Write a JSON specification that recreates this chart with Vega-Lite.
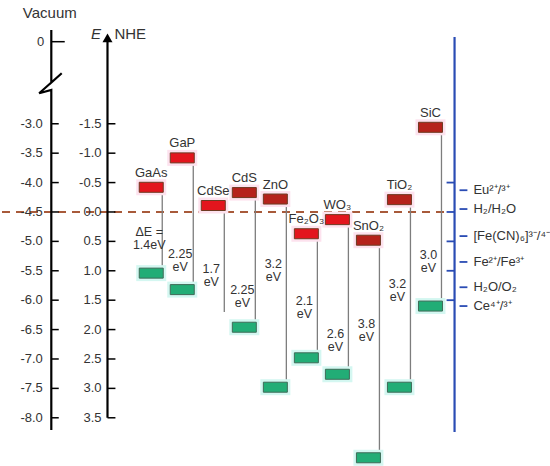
{
  "$schema": "https://vega.github.io/schema/vega-lite/v6.json",
  "description": "Band edge positions of semiconductors vs NHE and vacuum, with redox couples.",
  "width": 550,
  "height": 466,
  "autosize": {"type": "fit", "contains": "padding"},
  "padding": 0,
  "background": "white",
  "config": {"view": {"stroke": null}, "text": {"font": "Liberation Sans", "color": "#333333"}},
  "datasets": {
    "bands": [
      {"name": "GaAs", "pos": 0, "cb": -0.42, "vb": 1.04, "gap": "ΔE =\n1.4eV", "gapAt": 0.34},
      {"name": "GaP", "pos": 1, "cb": -0.92, "vb": 1.32, "gap": "2.25\neV", "gapAt": 0.71},
      {"name": "CdSe", "pos": 2, "cb": -0.11, "vb": 1.7, "gap": "1.7\neV", "gapAt": 0.97},
      {"name": "CdS", "pos": 3, "cb": -0.33, "vb": 1.96, "gap": "2.25\neV", "gapAt": 1.33},
      {"name": "ZnO", "pos": 4, "cb": -0.22, "vb": 2.98, "gap": "3.2\neV", "gapAt": 0.88},
      {"name": "Fe₂O₃", "pos": 5, "cb": 0.37, "vb": 2.48, "gap": "2.1\neV", "gapAt": 1.51},
      {"name": "WO₃", "pos": 6, "cb": 0.13, "vb": 2.76, "gap": "2.6\neV", "gapAt": 2.08},
      {"name": "SnO₂", "pos": 7, "cb": 0.48, "vb": 4.18, "gap": "3.8\neV", "gapAt": 1.9},
      {"name": "TiO₂", "pos": 8, "cb": -0.21, "vb": 2.98, "gap": "3.2\neV", "gapAt": 1.23},
      {"name": "SiC", "pos": 9, "cb": -1.44, "vb": 1.6, "gap": "3.0\neV", "gapAt": 0.73}
    ],
    "redox": [
      {"couple": "Eu²⁺/³⁺", "e": -0.37},
      {"couple": "H₂/H₂O", "e": -0.05},
      {"couple": "[Fe(CN)₆]³⁻/⁴⁻", "e": 0.41},
      {"couple": "Fe²⁺/Fe³⁺", "e": 0.85},
      {"couple": "H₂O/O₂", "e": 1.28},
      {"couple": "Ce⁴⁺/³⁺", "e": 1.6}
    ],
    "scaleTicks": [
      {"nhe": -1.5, "nheLabel": "-1.5", "vacLabel": "-3.0"},
      {"nhe": -1.0, "nheLabel": "-1.0", "vacLabel": "-3.5"},
      {"nhe": -0.5, "nheLabel": "-0.5", "vacLabel": "-4.0"},
      {"nhe": 0.0, "nheLabel": "0.0", "vacLabel": "-4.5"},
      {"nhe": 0.5, "nheLabel": "0.5", "vacLabel": "-5.0"},
      {"nhe": 1.0, "nheLabel": "1.0", "vacLabel": "-5.5"},
      {"nhe": 1.5, "nheLabel": "1.5", "vacLabel": "-6.0"},
      {"nhe": 2.0, "nheLabel": "2.0", "vacLabel": "-6.5"},
      {"nhe": 2.5, "nheLabel": "2.5", "vacLabel": "-7.0"},
      {"nhe": 3.0, "nheLabel": "3.0", "vacLabel": "-7.5"},
      {"nhe": 3.5, "nheLabel": "3.5", "vacLabel": "-8.0"}
    ],
    "vacAxis": [
      {"k": 0, "x": -3.221, "e": -3.095},
      {"k": 1, "x": -3.221, "e": -2.201},
      {"k": 2, "x": -2.885, "e": -2.359},
      {"k": 3, "x": -3.612, "e": -2.019},
      {"k": 4, "x": -3.221, "e": -2.075},
      {"k": 5, "x": -3.221, "e": 3.707}
    ],
    "one": [{}]
  },
  "layer": [
    {
      "data": {"name": "one"},
      "mark": {"type": "rule", "color": "#a85a3a", "strokeWidth": 2.2, "strokeDash": [8, 6]},
      "encoding": {
        "x": {"datum": -4.81, "type": "quantitative", "scale": {"domain": [-4.81, 12.82], "nice": false, "zero": false}, "axis": null},
        "x2": {"datum": 9.52},
        "y": {"datum": 0, "type": "quantitative", "scale": {"domain": [-3.605, 4.32], "reverse": true, "nice": false, "zero": false}, "axis": null}
      }
    },
    {
      "data": {"name": "vacAxis"},
      "mark": {"type": "line", "color": "black", "strokeWidth": 2.2, "strokeJoin": "miter"},
      "encoding": {
        "x": {"field": "x", "type": "quantitative", "scale": {"domain": [-4.81, 12.82], "nice": false, "zero": false}, "axis": null},
        "y": {"field": "e", "type": "quantitative", "scale": {"domain": [-3.605, 4.32], "reverse": true, "nice": false, "zero": false}, "axis": null},
        "order": {"field": "k"}
      }
    },
    {
      "data": {"name": "scaleTicks"},
      "mark": {"type": "rule", "color": "black", "strokeWidth": 1.5},
      "encoding": {
        "x": {"datum": -3.221, "type": "quantitative", "scale": {"domain": [-4.81, 12.82], "nice": false, "zero": false}, "axis": null},
        "x2": {"datum": -2.981},
        "y": {"field": "nhe", "type": "quantitative", "scale": {"domain": [-3.605, 4.32], "reverse": true, "nice": false, "zero": false}, "axis": null}
      }
    },
    {
      "data": {"name": "scaleTicks"},
      "mark": {"type": "text", "align": "right", "baseline": "middle", "fontSize": 13},
      "encoding": {
        "x": {"datum": -3.494, "type": "quantitative", "scale": {"domain": [-4.81, 12.82], "nice": false, "zero": false}, "axis": null},
        "y": {"field": "nhe", "type": "quantitative", "scale": {"domain": [-3.605, 4.32], "reverse": true, "nice": false, "zero": false}, "axis": null},
        "text": {"field": "vacLabel"}
      }
    },
    {
      "data": {"name": "one"},
      "mark": {"type": "rule", "color": "black", "strokeWidth": 1.5},
      "encoding": {
        "x": {"datum": -3.221, "type": "quantitative", "scale": {"domain": [-4.81, 12.82], "nice": false, "zero": false}, "axis": null},
        "x2": {"datum": -2.788},
        "y": {"datum": -2.896, "type": "quantitative", "scale": {"domain": [-3.605, 4.32], "reverse": true, "nice": false, "zero": false}, "axis": null}
      }
    },
    {
      "data": {"name": "one"},
      "mark": {"type": "text", "align": "right", "baseline": "middle", "fontSize": 13, "text": "0"},
      "encoding": {
        "x": {"datum": -3.45, "type": "quantitative", "scale": {"domain": [-4.81, 12.82], "nice": false, "zero": false}, "axis": null},
        "y": {"datum": -2.896, "type": "quantitative", "scale": {"domain": [-3.605, 4.32], "reverse": true, "nice": false, "zero": false}, "axis": null}
      }
    },
    {
      "data": {"name": "one"},
      "mark": {"type": "text", "align": "center", "baseline": "middle", "fontSize": 15, "text": "Vacuum"},
      "encoding": {
        "x": {"datum": -3.27, "type": "quantitative", "scale": {"domain": [-4.81, 12.82], "nice": false, "zero": false}, "axis": null},
        "y": {"datum": -3.384, "type": "quantitative", "scale": {"domain": [-3.605, 4.32], "reverse": true, "nice": false, "zero": false}, "axis": null}
      }
    },
    {
      "data": {"name": "one"},
      "mark": {"type": "rule", "color": "black", "strokeWidth": 2.2},
      "encoding": {
        "x": {"datum": -1.41, "type": "quantitative", "scale": {"domain": [-4.81, 12.82], "nice": false, "zero": false}, "axis": null},
        "y": {"datum": -2.96, "type": "quantitative", "scale": {"domain": [-3.605, 4.32], "reverse": true, "nice": false, "zero": false}, "axis": null},
        "y2": {"datum": 3.5}
      }
    },
    {
      "data": {"name": "one"},
      "mark": {"type": "point", "shape": "triangle-up", "filled": true, "color": "black", "size": 100, "opacity": 1},
      "encoding": {
        "x": {"datum": -1.41, "type": "quantitative", "scale": {"domain": [-4.81, 12.82], "nice": false, "zero": false}, "axis": null},
        "y": {"datum": -2.96, "type": "quantitative", "scale": {"domain": [-3.605, 4.32], "reverse": true, "nice": false, "zero": false}, "axis": null}
      }
    },
    {
      "data": {"name": "scaleTicks"},
      "mark": {"type": "rule", "color": "black", "strokeWidth": 1.5},
      "encoding": {
        "x": {"datum": -1.41, "type": "quantitative", "scale": {"domain": [-4.81, 12.82], "nice": false, "zero": false}, "axis": null},
        "x2": {"datum": -1.154},
        "y": {"field": "nhe", "type": "quantitative", "scale": {"domain": [-3.605, 4.32], "reverse": true, "nice": false, "zero": false}, "axis": null}
      }
    },
    {
      "data": {"name": "scaleTicks"},
      "mark": {"type": "text", "align": "right", "baseline": "middle", "fontSize": 13},
      "encoding": {
        "x": {"datum": -1.603, "type": "quantitative", "scale": {"domain": [-4.81, 12.82], "nice": false, "zero": false}, "axis": null},
        "y": {"field": "nhe", "type": "quantitative", "scale": {"domain": [-3.605, 4.32], "reverse": true, "nice": false, "zero": false}, "axis": null},
        "text": {"field": "nheLabel"}
      }
    },
    {
      "data": {"name": "one"},
      "mark": {"type": "text", "align": "center", "baseline": "middle", "fontSize": 15, "fontStyle": "italic", "text": "E"},
      "encoding": {
        "x": {"datum": -1.78, "type": "quantitative", "scale": {"domain": [-4.81, 12.82], "nice": false, "zero": false}, "axis": null},
        "y": {"datum": -3.027, "type": "quantitative", "scale": {"domain": [-3.605, 4.32], "reverse": true, "nice": false, "zero": false}, "axis": null}
      }
    },
    {
      "data": {"name": "one"},
      "mark": {"type": "text", "align": "left", "baseline": "middle", "fontSize": 15, "text": "NHE"},
      "encoding": {
        "x": {"datum": -1.186, "type": "quantitative", "scale": {"domain": [-4.81, 12.82], "nice": false, "zero": false}, "axis": null},
        "y": {"datum": -3.027, "type": "quantitative", "scale": {"domain": [-3.605, 4.32], "reverse": true, "nice": false, "zero": false}, "axis": null}
      }
    },
    {
      "data": {"name": "one"},
      "mark": {"type": "rule", "color": "#2a4cb4", "strokeWidth": 2.2},
      "encoding": {
        "x": {"datum": 9.776, "type": "quantitative", "scale": {"domain": [-4.81, 12.82], "nice": false, "zero": false}, "axis": null},
        "y": {"datum": -2.976, "type": "quantitative", "scale": {"domain": [-3.605, 4.32], "reverse": true, "nice": false, "zero": false}, "axis": null},
        "y2": {"datum": 3.741}
      }
    },
    {
      "data": {"name": "scaleTicks"},
      "transform": [{"filter": "datum.nhe >= -0.5 && datum.nhe <= 1.5"}],
      "mark": {"type": "rule", "color": "#2a4cb4", "strokeWidth": 1.8},
      "encoding": {
        "x": {"datum": 9.519, "type": "quantitative", "scale": {"domain": [-4.81, 12.82], "nice": false, "zero": false}, "axis": null},
        "x2": {"datum": 9.776},
        "y": {"field": "nhe", "type": "quantitative", "scale": {"domain": [-3.605, 4.32], "reverse": true, "nice": false, "zero": false}, "axis": null}
      }
    },
    {
      "data": {"name": "redox"},
      "mark": {"type": "rule", "color": "#2a4cb4", "strokeWidth": 1.8},
      "encoding": {
        "x": {"datum": 9.936, "type": "quantitative", "scale": {"domain": [-4.81, 12.82], "nice": false, "zero": false}, "axis": null},
        "x2": {"datum": 10.19},
        "y": {"field": "e", "type": "quantitative", "scale": {"domain": [-3.605, 4.32], "reverse": true, "nice": false, "zero": false}, "axis": null}
      }
    },
    {
      "data": {"name": "redox"},
      "mark": {"type": "text", "align": "left", "baseline": "middle", "fontSize": 13},
      "encoding": {
        "x": {"datum": 10.385, "type": "quantitative", "scale": {"domain": [-4.81, 12.82], "nice": false, "zero": false}, "axis": null},
        "y": {"field": "e", "type": "quantitative", "scale": {"domain": [-3.605, 4.32], "reverse": true, "nice": false, "zero": false}, "axis": null},
        "text": {"field": "couple"}
      }
    },
    {
      "data": {"name": "bands"},
      "mark": {"type": "rule", "color": "#7d7d7d", "strokeWidth": 1.3, "xOffset": 11},
      "encoding": {
        "x": {"field": "pos", "type": "quantitative", "scale": {"domain": [-4.81, 12.82], "nice": false, "zero": false}, "axis": null},
        "y": {"field": "cb", "type": "quantitative", "scale": {"domain": [-3.605, 4.32], "reverse": true, "nice": false, "zero": false}, "axis": null},
        "y2": {"field": "vb"}
      }
    },
    {
      "data": {"name": "bands"},
      "mark": {"type": "tick", "orient": "horizontal", "size": 30, "thickness": 16, "color": "#fde2ee", "opacity": 1},
      "encoding": {
        "x": {"field": "pos", "type": "quantitative", "scale": {"domain": [-4.81, 12.82], "nice": false, "zero": false}, "axis": null},
        "y": {"field": "cb", "type": "quantitative", "scale": {"domain": [-3.605, 4.32], "reverse": true, "nice": false, "zero": false}, "axis": null}
      }
    },
    {
      "data": {"name": "bands"},
      "transform": [{"filter": "datum.name !== 'CdSe'"}],
      "mark": {"type": "tick", "orient": "horizontal", "size": 30, "thickness": 16, "color": "#d4f7f1", "opacity": 1},
      "encoding": {
        "x": {"field": "pos", "type": "quantitative", "scale": {"domain": [-4.81, 12.82], "nice": false, "zero": false}, "axis": null},
        "y": {"field": "vb", "type": "quantitative", "scale": {"domain": [-3.605, 4.32], "reverse": true, "nice": false, "zero": false}, "axis": null}
      }
    },
    {
      "data": {"name": "bands"},
      "mark": {"type": "tick", "orient": "horizontal", "size": 24, "thickness": 10, "opacity": 1, "stroke": "#6e3a22", "strokeWidth": 1},
      "encoding": {
        "x": {"field": "pos", "type": "quantitative", "scale": {"domain": [-4.81, 12.82], "nice": false, "zero": false}, "axis": null},
        "y": {"field": "cb", "type": "quantitative", "scale": {"domain": [-3.605, 4.32], "reverse": true, "nice": false, "zero": false}, "axis": null},
        "color": {
          "condition": {"test": "indexof(['CdS', 'ZnO', 'SnO₂', 'TiO₂', 'SiC'], datum.name) >= 0", "value": "#b5221b"},
          "value": "#e3151d"
        }
      }
    },
    {
      "data": {"name": "bands"},
      "transform": [{"filter": "datum.name !== 'CdSe'"}],
      "mark": {"type": "tick", "orient": "horizontal", "size": 24, "thickness": 10, "color": "#22ad76", "opacity": 1, "stroke": "#3f6b58", "strokeWidth": 1},
      "encoding": {
        "x": {"field": "pos", "type": "quantitative", "scale": {"domain": [-4.81, 12.82], "nice": false, "zero": false}, "axis": null},
        "y": {"field": "vb", "type": "quantitative", "scale": {"domain": [-3.605, 4.32], "reverse": true, "nice": false, "zero": false}, "axis": null}
      }
    },
    {
      "data": {"name": "bands"},
      "mark": {"type": "text", "align": "center", "baseline": "alphabetic", "fontSize": 13, "dy": -10.5},
      "encoding": {
        "x": {"field": "pos", "type": "quantitative", "scale": {"domain": [-4.81, 12.82], "nice": false, "zero": false}, "axis": null},
        "y": {"field": "cb", "type": "quantitative", "scale": {"domain": [-3.605, 4.32], "reverse": true, "nice": false, "zero": false}, "axis": null},
        "text": {"field": "name"}
      }
    },
    {
      "data": {"name": "bands"},
      "mark": {"type": "text", "align": "center", "baseline": "middle", "fontSize": 12.5, "lineBreak": "\n", "lineHeight": 13, "dx": -2},
      "encoding": {
        "x": {"field": "pos", "type": "quantitative", "scale": {"domain": [-4.81, 12.82], "nice": false, "zero": false}, "axis": null},
        "y": {"field": "gapAt", "type": "quantitative", "scale": {"domain": [-3.605, 4.32], "reverse": true, "nice": false, "zero": false}, "axis": null},
        "text": {"field": "gap"}
      }
    }
  ]
}
